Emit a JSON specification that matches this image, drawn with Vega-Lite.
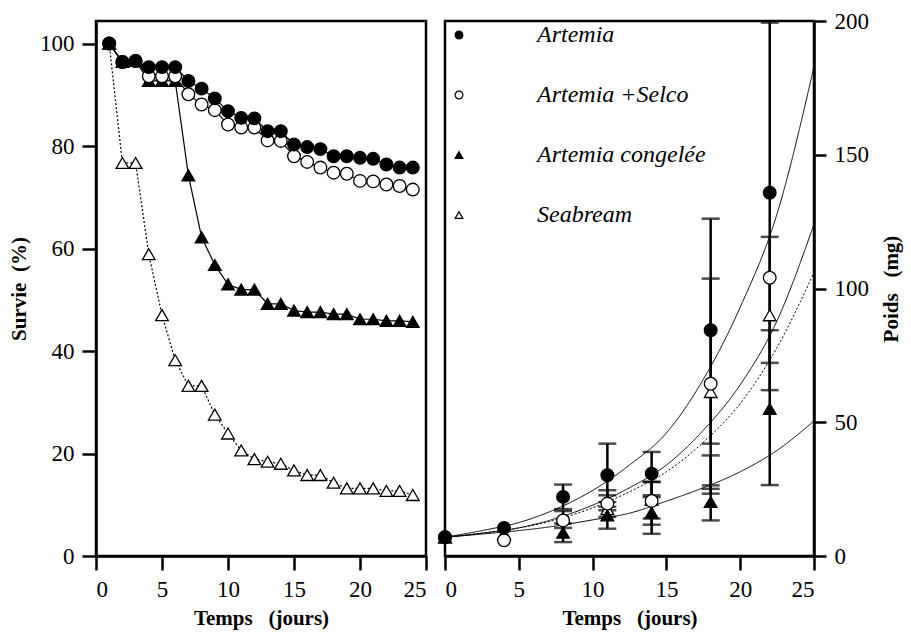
{
  "$schema": "https://vega.github.io/schema/vega-lite/v6.json",
  "background": "white",
  "padding": {"left": 7, "top": 8, "right": 5, "bottom": 5},
  "bounds": "flush",
  "config": {
    "font": "Liberation Serif",
    "view": {"stroke": "black", "strokeWidth": 2.5},
    "axis": {
      "grid": false, "domainColor": "black", "domainWidth": 2.5,
      "tickColor": "black", "tickWidth": 2.5, "tickSize": 14,
      "labelFont": "Liberation Serif", "labelFontSize": 23, "labelColor": "black", "labelPadding": 8,
      "titleFont": "Liberation Serif", "titleFontSize": 21, "titleFontWeight": "bold", "titleColor": "black"
    },
    "concat": {"spacing": 19},
    "legend": {"labelFont": "Liberation Serif"}
  },
  "resolve": {"legend": {"shape": "independent", "fill": "independent", "stroke": "independent"}},
  "datasets": {
    "survie": [
      {"day": 1, "value": 100, "series": "Seabream"}, {"day": 2, "value": 76.7, "series": "Seabream"}, {"day": 3, "value": 76.7, "series": "Seabream"}, {"day": 4, "value": 58.9, "series": "Seabream"}, {"day": 5, "value": 47.0, "series": "Seabream"}, {"day": 6, "value": 38.2, "series": "Seabream"}, {"day": 7, "value": 33.2, "series": "Seabream"}, {"day": 8, "value": 33.2, "series": "Seabream"}, {"day": 9, "value": 27.6, "series": "Seabream"}, {"day": 10, "value": 23.9, "series": "Seabream"}, {"day": 11, "value": 20.6, "series": "Seabream"}, {"day": 12, "value": 18.9, "series": "Seabream"}, {"day": 13, "value": 18.4, "series": "Seabream"}, {"day": 14, "value": 18.0, "series": "Seabream"}, {"day": 15, "value": 16.7, "series": "Seabream"}, {"day": 16, "value": 15.8, "series": "Seabream"}, {"day": 17, "value": 15.8, "series": "Seabream"}, {"day": 18, "value": 14.3, "series": "Seabream"}, {"day": 19, "value": 13.2, "series": "Seabream"}, {"day": 20, "value": 13.2, "series": "Seabream"}, {"day": 21, "value": 13.2, "series": "Seabream"}, {"day": 22, "value": 12.7, "series": "Seabream"}, {"day": 23, "value": 12.7, "series": "Seabream"}, {"day": 24, "value": 11.9, "series": "Seabream"},
      {"day": 1, "value": 100, "series": "Artemia congelée"}, {"day": 2, "value": 96.4, "series": "Artemia congelée"}, {"day": 3, "value": 96.6, "series": "Artemia congelée"}, {"day": 4, "value": 92.7, "series": "Artemia congelée"}, {"day": 5, "value": 92.7, "series": "Artemia congelée"}, {"day": 6, "value": 92.7, "series": "Artemia congelée"}, {"day": 7, "value": 74.3, "series": "Artemia congelée"}, {"day": 8, "value": 62.2, "series": "Artemia congelée"}, {"day": 9, "value": 56.8, "series": "Artemia congelée"}, {"day": 10, "value": 53.0, "series": "Artemia congelée"}, {"day": 11, "value": 52.0, "series": "Artemia congelée"}, {"day": 12, "value": 52.0, "series": "Artemia congelée"}, {"day": 13, "value": 49.2, "series": "Artemia congelée"}, {"day": 14, "value": 49.2, "series": "Artemia congelée"}, {"day": 15, "value": 47.9, "series": "Artemia congelée"}, {"day": 16, "value": 47.6, "series": "Artemia congelée"}, {"day": 17, "value": 47.6, "series": "Artemia congelée"}, {"day": 18, "value": 47.2, "series": "Artemia congelée"}, {"day": 19, "value": 47.2, "series": "Artemia congelée"}, {"day": 20, "value": 46.2, "series": "Artemia congelée"}, {"day": 21, "value": 46.2, "series": "Artemia congelée"}, {"day": 22, "value": 45.9, "series": "Artemia congelée"}, {"day": 23, "value": 45.9, "series": "Artemia congelée"}, {"day": 24, "value": 45.7, "series": "Artemia congelée"},
      {"day": 1, "value": 100, "series": "Artemia +Selco"}, {"day": 2, "value": 96.4, "series": "Artemia +Selco"}, {"day": 3, "value": 96.6, "series": "Artemia +Selco"}, {"day": 4, "value": 93.6, "series": "Artemia +Selco"}, {"day": 5, "value": 93.6, "series": "Artemia +Selco"}, {"day": 6, "value": 93.6, "series": "Artemia +Selco"}, {"day": 7, "value": 90.1, "series": "Artemia +Selco"}, {"day": 8, "value": 88.1, "series": "Artemia +Selco"}, {"day": 9, "value": 87.0, "series": "Artemia +Selco"}, {"day": 10, "value": 84.2, "series": "Artemia +Selco"}, {"day": 11, "value": 83.6, "series": "Artemia +Selco"}, {"day": 12, "value": 83.6, "series": "Artemia +Selco"}, {"day": 13, "value": 81.1, "series": "Artemia +Selco"}, {"day": 14, "value": 81.0, "series": "Artemia +Selco"}, {"day": 15, "value": 78.0, "series": "Artemia +Selco"}, {"day": 16, "value": 76.9, "series": "Artemia +Selco"}, {"day": 17, "value": 75.8, "series": "Artemia +Selco"}, {"day": 18, "value": 74.8, "series": "Artemia +Selco"}, {"day": 19, "value": 74.6, "series": "Artemia +Selco"}, {"day": 20, "value": 73.2, "series": "Artemia +Selco"}, {"day": 21, "value": 73.1, "series": "Artemia +Selco"}, {"day": 22, "value": 72.5, "series": "Artemia +Selco"}, {"day": 23, "value": 72.2, "series": "Artemia +Selco"}, {"day": 24, "value": 71.5, "series": "Artemia +Selco"},
      {"day": 1, "value": 100, "series": "Artemia"}, {"day": 2, "value": 96.4, "series": "Artemia"}, {"day": 3, "value": 96.6, "series": "Artemia"}, {"day": 4, "value": 95.4, "series": "Artemia"}, {"day": 5, "value": 95.4, "series": "Artemia"}, {"day": 6, "value": 95.4, "series": "Artemia"}, {"day": 7, "value": 92.7, "series": "Artemia"}, {"day": 8, "value": 91.2, "series": "Artemia"}, {"day": 9, "value": 89.3, "series": "Artemia"}, {"day": 10, "value": 86.8, "series": "Artemia"}, {"day": 11, "value": 85.5, "series": "Artemia"}, {"day": 12, "value": 85.4, "series": "Artemia"}, {"day": 13, "value": 82.9, "series": "Artemia"}, {"day": 14, "value": 82.9, "series": "Artemia"}, {"day": 15, "value": 80.3, "series": "Artemia"}, {"day": 16, "value": 79.8, "series": "Artemia"}, {"day": 17, "value": 79.4, "series": "Artemia"}, {"day": 18, "value": 78.0, "series": "Artemia"}, {"day": 19, "value": 78.0, "series": "Artemia"}, {"day": 20, "value": 77.7, "series": "Artemia"}, {"day": 21, "value": 77.5, "series": "Artemia"}, {"day": 22, "value": 76.4, "series": "Artemia"}, {"day": 23, "value": 75.8, "series": "Artemia"}, {"day": 24, "value": 75.8, "series": "Artemia"}
    ],
    "poids": [
      {"day": 0, "mg": 7, "series": "Seabream"}, {"day": 4, "mg": 8.2, "series": "Seabream"}, {"day": 8, "mg": 14, "series": "Seabream"}, {"day": 11, "mg": 17.5, "series": "Seabream"}, {"day": 14, "mg": 21, "series": "Seabream"}, {"day": 18, "mg": 61.3, "series": "Seabream"}, {"day": 22, "mg": 90, "series": "Seabream"},
      {"day": 0, "mg": 7, "series": "Artemia congelée"}, {"day": 4, "mg": 8, "series": "Artemia congelée"}, {"day": 8, "mg": 8.7, "series": "Artemia congelée"}, {"day": 11, "mg": 15.2, "series": "Artemia congelée"}, {"day": 14, "mg": 16.2, "series": "Artemia congelée"}, {"day": 18, "mg": 20.2, "series": "Artemia congelée"}, {"day": 22, "mg": 55, "series": "Artemia congelée"},
      {"day": 0, "mg": 7, "series": "Artemia +Selco"}, {"day": 4, "mg": 5.9, "series": "Artemia +Selco"}, {"day": 8, "mg": 13.3, "series": "Artemia +Selco"}, {"day": 11, "mg": 19.6, "series": "Artemia +Selco"}, {"day": 14, "mg": 20.6, "series": "Artemia +Selco"}, {"day": 18, "mg": 64.4, "series": "Artemia +Selco"}, {"day": 22, "mg": 104, "series": "Artemia +Selco"},
      {"day": 0, "mg": 7, "series": "Artemia"}, {"day": 4, "mg": 10.5, "series": "Artemia"}, {"day": 8, "mg": 22.1, "series": "Artemia"}, {"day": 11, "mg": 30.2, "series": "Artemia"}, {"day": 14, "mg": 30.8, "series": "Artemia"}, {"day": 18, "mg": 84.4, "series": "Artemia"}, {"day": 22, "mg": 135.8, "series": "Artemia"}
    ],
    "erreurs": [
      {"day": 8, "lo": 17.5, "hi": 26.7, "series": "Artemia"}, {"day": 11, "lo": 18.4, "hi": 42.0, "series": "Artemia"}, {"day": 14, "lo": 22.7, "hi": 38.9, "series": "Artemia"}, {"day": 18, "lo": 42.0, "hi": 126.1, "series": "Artemia"}, {"day": 22, "lo": 72.2, "hi": 199.4, "series": "Artemia"},
      {"day": 8, "lo": 10.5, "hi": 16.8, "series": "Artemia +Selco"}, {"day": 11, "lo": 14.6, "hi": 24.6, "series": "Artemia +Selco"}, {"day": 14, "lo": 14.0, "hi": 27.7, "series": "Artemia +Selco"}, {"day": 18, "lo": 25.1, "hi": 103.7, "series": "Artemia +Selco"},
      {"day": 8, "lo": 5.2, "hi": 12.2, "series": "Artemia congelée"}, {"day": 11, "lo": 10.2, "hi": 20.2, "series": "Artemia congelée"}, {"day": 14, "lo": 8.3, "hi": 22.0, "series": "Artemia congelée"}, {"day": 18, "lo": 13.3, "hi": 26.4, "series": "Artemia congelée"}, {"day": 22, "lo": 26.5, "hi": 84.4, "series": "Artemia congelée"},
      {"day": 11, "lo": 17.1, "hi": 22.7, "series": "Seabream"}, {"day": 14, "lo": 11.7, "hi": 27.7, "series": "Seabream"}, {"day": 18, "lo": 23.3, "hi": 37.6, "series": "Seabream"}, {"day": 22, "lo": 62.0, "hi": 119.3, "series": "Seabream"}
    ],
    "courbes": [
      {"day": 0, "mg": 7, "series": "Artemia"}, {"day": 2.5, "mg": 9.5, "series": "Artemia"}, {"day": 5, "mg": 12.5, "series": "Artemia"}, {"day": 7.5, "mg": 17.5, "series": "Artemia"}, {"day": 10, "mg": 24.5, "series": "Artemia"}, {"day": 12.5, "mg": 34, "series": "Artemia"}, {"day": 15, "mg": 46, "series": "Artemia"}, {"day": 17.5, "mg": 66, "series": "Artemia"}, {"day": 20, "mg": 93, "series": "Artemia"}, {"day": 22.5, "mg": 128, "series": "Artemia"}, {"day": 25, "mg": 183, "series": "Artemia"},
      {"day": 0, "mg": 7, "series": "Artemia +Selco"}, {"day": 2.5, "mg": 8.5, "series": "Artemia +Selco"}, {"day": 5, "mg": 10.5, "series": "Artemia +Selco"}, {"day": 7.5, "mg": 14, "series": "Artemia +Selco"}, {"day": 10, "mg": 19, "series": "Artemia +Selco"}, {"day": 12.5, "mg": 25.5, "series": "Artemia +Selco"}, {"day": 15, "mg": 34, "series": "Artemia +Selco"}, {"day": 17.5, "mg": 47, "series": "Artemia +Selco"}, {"day": 20, "mg": 64, "series": "Artemia +Selco"}, {"day": 22.5, "mg": 88, "series": "Artemia +Selco"}, {"day": 25, "mg": 124, "series": "Artemia +Selco"},
      {"day": 0, "mg": 7, "series": "Seabream"}, {"day": 2.5, "mg": 8.6, "series": "Seabream"}, {"day": 5, "mg": 10.5, "series": "Seabream"}, {"day": 7.5, "mg": 13.5, "series": "Seabream"}, {"day": 10, "mg": 18, "series": "Seabream"}, {"day": 12.5, "mg": 24, "series": "Seabream"}, {"day": 15, "mg": 31.5, "series": "Seabream"}, {"day": 17.5, "mg": 42.5, "series": "Seabream"}, {"day": 20, "mg": 57, "series": "Seabream"}, {"day": 22.5, "mg": 78, "series": "Seabream"}, {"day": 25, "mg": 106, "series": "Seabream"},
      {"day": 0, "mg": 7, "series": "Artemia congelée"}, {"day": 2.5, "mg": 8.2, "series": "Artemia congelée"}, {"day": 5, "mg": 9.5, "series": "Artemia congelée"}, {"day": 7.5, "mg": 11.2, "series": "Artemia congelée"}, {"day": 10, "mg": 13.5, "series": "Artemia congelée"}, {"day": 12.5, "mg": 16, "series": "Artemia congelée"}, {"day": 15, "mg": 20.5, "series": "Artemia congelée"}, {"day": 17.5, "mg": 25.5, "series": "Artemia congelée"}, {"day": 20, "mg": 31.5, "series": "Artemia congelée"}, {"day": 22.5, "mg": 39.5, "series": "Artemia congelée"}, {"day": 25, "mg": 50.5, "series": "Artemia congelée"}
    ]
  },
  "hconcat": [
    {
      "width": 330,
      "height": 535,
      "data": {"name": "survie"},
      "encoding": {
        "x": {"field": "day", "type": "quantitative", "scale": {"domain": [0, 25], "nice": false}, "axis": {"values": [0, 5, 10, 15, 20, 25], "title": "Temps\u00a0\u00a0\u00a0(jours)", "titlePadding": 6}},
        "y": {"field": "value", "type": "quantitative", "scale": {"domain": [0, 104.4], "nice": false}, "axis": {"values": [0, 20, 40, 60, 80, 100], "title": "Survie\u00a0\u00a0(%)", "titlePadding": 10}}
      },
      "layer": [
        {
          "mark": {"type": "line", "color": "black", "strokeWidth": 1.2},
          "encoding": {
            "detail": {"field": "series"},
            "strokeDash": {"field": "series", "type": "nominal", "scale": {"domain": ["Artemia", "Artemia +Selco", "Artemia congelée", "Seabream"], "range": [[1, 0], [1, 0], [1, 0], [2, 2]]}, "legend": null}
          }
        },
        {
          "mark": {"type": "point", "filled": false, "strokeWidth": 1.3, "size": 160, "opacity": 1},
          "encoding": {
            "shape": {"field": "series", "type": "nominal", "scale": {"domain": ["Artemia", "Artemia +Selco", "Artemia congelée", "Seabream"], "range": ["circle", "circle", "triangle-up", "triangle-up"]}, "legend": null},
            "fill": {"field": "series", "type": "nominal", "scale": {"domain": ["Artemia", "Artemia +Selco", "Artemia congelée", "Seabream"], "range": ["black", "white", "black", "white"]}, "legend": null},
            "stroke": {"field": "series", "type": "nominal", "scale": {"domain": ["Artemia", "Artemia +Selco", "Artemia congelée", "Seabream"], "range": ["black", "black", "black", "black"]}, "legend": null}
          }
        }
      ]
    },
    {
      "width": 369,
      "height": 535,
      "encoding": {
        "x": {"field": "day", "type": "quantitative", "scale": {"domain": [0, 25], "nice": false}, "axis": {"values": [0, 5, 10, 15, 20, 25], "title": "Temps\u00a0\u00a0\u00a0(jours)", "titlePadding": 6}}
      },
      "layer": [
        {
          "data": {"name": "courbes"},
          "mark": {"type": "line", "color": "black", "strokeWidth": 1, "interpolate": "monotone"},
          "encoding": {
            "y": {"field": "mg", "type": "quantitative", "title": "Poids\u00a0\u00a0\u00a0(mg)", "scale": {"domain": [0, 200], "nice": false}, "axis": {"orient": "right", "values": [0, 50, 100, 150, 200], "title": "Poids\u00a0\u00a0\u00a0(mg)", "titleAngle": 270, "titleBaseline": "top", "tickSize": 12, "labelPadding": 8, "titlePadding": 12}},
            "detail": {"field": "series"},
            "strokeDash": {"field": "series", "type": "nominal", "scale": {"domain": ["Artemia", "Artemia +Selco", "Artemia congelée", "Seabream"], "range": [[1, 0], [1, 0], [1, 0], [10, 5]]}, "legend": null}
          }
        },
        {
          "data": {"name": "erreurs"},
          "mark": {"type": "errorbar", "ticks": {"size": 18, "thickness": 2.5, "color": "black"}, "rule": {"strokeWidth": 2.5, "color": "black"}},
          "encoding": {
            "y": {"field": "lo", "type": "quantitative", "title": "Poids\u00a0\u00a0\u00a0(mg)"},
            "y2": {"field": "hi"}
          }
        },
        {
          "data": {"name": "poids"},
          "mark": {"type": "point", "filled": false, "strokeWidth": 1.3, "size": 160, "opacity": 1},
          "encoding": {
            "y": {"field": "mg", "type": "quantitative", "title": "Poids\u00a0\u00a0\u00a0(mg)"},
            "shape": {"field": "series", "type": "nominal", "scale": {"domain": ["Artemia", "Artemia +Selco", "Artemia congelée", "Seabream"], "range": ["circle", "circle", "triangle-up", "triangle-up"]},
              "legend": {"title": null, "orient": "top-left", "offset": 2, "padding": 0, "symbolSize": 60, "symbolStrokeWidth": 1.2, "labelFontSize": 24, "labelFontStyle": "italic", "labelLimit": 400, "labelColor": "black", "labelOffset": 66, "rowPadding": 36}},
            "fill": {"field": "series", "type": "nominal", "scale": {"domain": ["Artemia", "Artemia +Selco", "Artemia congelée", "Seabream"], "range": ["black", "white", "black", "white"]},
              "legend": {"title": null, "orient": "top-left", "offset": 2, "padding": 0, "symbolSize": 60, "symbolStrokeWidth": 1.2, "labelFontSize": 24, "labelFontStyle": "italic", "labelLimit": 400, "labelColor": "black", "labelOffset": 66, "rowPadding": 36}},
            "stroke": {"field": "series", "type": "nominal", "scale": {"domain": ["Artemia", "Artemia +Selco", "Artemia congelée", "Seabream"], "range": ["black", "black", "black", "black"]},
              "legend": {"title": null, "orient": "top-left", "offset": 2, "padding": 0, "symbolSize": 60, "symbolStrokeWidth": 1.2, "labelFontSize": 24, "labelFontStyle": "italic", "labelLimit": 400, "labelColor": "black", "labelOffset": 66, "rowPadding": 36}}
          }
        }
      ]
    }
  ]
}
